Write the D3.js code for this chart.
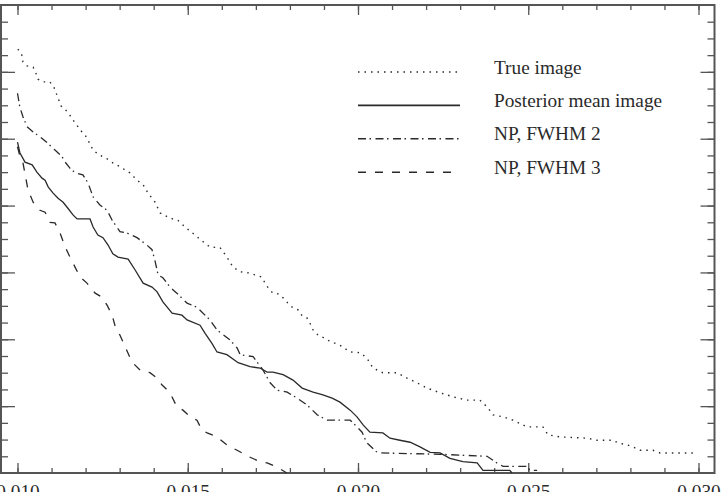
<!DOCTYPE html>
<html>
<head>
<meta charset="utf-8">
<script src="https://cdn.jsdelivr.net/npm/d3@7"></script>
<style>
  body { margin: 0; background: #fff; }
  svg { display: block; }
</style>
</head>
<body>
<script>
// curves: [threshold, value]
const trueImage = [
  [0.01001,6.34],[0.01012,6.27],[0.01016,6.15],[0.01028,6.09],[0.01046,6.07],[0.01054,5.98],
  [0.01060,5.89],[0.01075,5.85],[0.01095,5.85],[0.01107,5.77],[0.01119,5.61],[0.01128,5.49],
  [0.01140,5.44],[0.01154,5.35],[0.01163,5.28],[0.01175,5.20],[0.01184,5.13],[0.01198,5.06],
  [0.01207,4.98],[0.01222,4.83],[0.01239,4.76],[0.01260,4.71],[0.01280,4.64],[0.01301,4.58],
  [0.01330,4.49],[0.01351,4.38],[0.01369,4.31],[0.01383,4.19],[0.01404,4.05],[0.01419,3.89],
  [0.01448,3.81],[0.01471,3.78],[0.01492,3.68],[0.01521,3.56],[0.01545,3.46],[0.01565,3.38],
  [0.01595,3.37],[0.01615,3.23],[0.01633,3.08],[0.01654,3.01],[0.01683,2.99],[0.01717,2.93],
  [0.01727,2.84],[0.01736,2.77],[0.01750,2.69],[0.01765,2.68],[0.01780,2.62],[0.01794,2.54],
  [0.01809,2.47],[0.01824,2.44],[0.01836,2.35],[0.01850,2.32],[0.01859,2.24],[0.01868,2.14],
  [0.01883,2.06],[0.01897,2.03],[0.01909,1.99],[0.01947,1.91],[0.01977,1.81],[0.02006,1.80],
  [0.02026,1.72],[0.02044,1.57],[0.02073,1.50],[0.02115,1.50],[0.02144,1.42],[0.02173,1.35],
  [0.02203,1.27],[0.02241,1.20],[0.02279,1.14],[0.02320,1.09],[0.02358,1.09],[0.02379,0.99],
  [0.02397,0.87],[0.02426,0.84],[0.02455,0.79],[0.02496,0.69],[0.02543,0.69],[0.02558,0.57],
  [0.02593,0.54],[0.02673,0.52],[0.02702,0.49],[0.02749,0.49],[0.02764,0.45],[0.02790,0.42],
  [0.02808,0.39],[0.02828,0.34],[0.02866,0.34],[0.02887,0.30],[0.02990,0.30]
];
const posteriorMean = [
  [0.01000,4.95],[0.01007,4.79],[0.01022,4.65],[0.01043,4.61],[0.01057,4.50],[0.01072,4.41],
  [0.01081,4.38],[0.01090,4.28],[0.01104,4.19],[0.01119,4.11],[0.01134,4.05],[0.01148,3.96],
  [0.01163,3.86],[0.01175,3.80],[0.01213,3.80],[0.01222,3.68],[0.01236,3.56],[0.01251,3.52],
  [0.01266,3.41],[0.01280,3.28],[0.01295,3.23],[0.01325,3.20],[0.01345,3.04],[0.01369,2.84],
  [0.01395,2.78],[0.01410,2.71],[0.01427,2.56],[0.01454,2.39],[0.01483,2.36],[0.01498,2.29],
  [0.01536,2.21],[0.01551,2.09],[0.01571,1.94],[0.01586,1.81],[0.01615,1.77],[0.01648,1.65],
  [0.01683,1.59],[0.01712,1.57],[0.01733,1.51],[0.01750,1.51],[0.01780,1.47],[0.01809,1.39],
  [0.01836,1.27],[0.01868,1.21],[0.01897,1.17],[0.01924,1.12],[0.01947,1.06],[0.01977,0.94],
  [0.01997,0.84],[0.02015,0.72],[0.02035,0.61],[0.02073,0.60],[0.02094,0.52],[0.02123,0.49],
  [0.02153,0.46],[0.02182,0.39],[0.02212,0.31],[0.02241,0.30],[0.02270,0.22],[0.02308,0.17],
  [0.02350,0.15],[0.02367,0.04],[0.02446,0.04],[0.02452,0.00]
];
const npFwhm2 = [
  [0.01000,5.68],[0.01007,5.47],[0.01016,5.33],[0.01028,5.18],[0.01046,5.10],[0.01066,5.03],
  [0.01087,4.94],[0.01110,4.83],[0.01131,4.73],[0.01140,4.65],[0.01154,4.56],[0.01169,4.49],
  [0.01192,4.46],[0.01207,4.34],[0.01222,4.13],[0.01242,4.01],[0.01263,3.93],[0.01278,3.78],
  [0.01301,3.61],[0.01321,3.59],[0.01351,3.52],[0.01380,3.41],[0.01395,3.34],[0.01404,3.17],
  [0.01413,2.96],[0.01427,2.92],[0.01448,2.78],[0.01468,2.69],[0.01498,2.54],[0.01527,2.48],
  [0.01565,2.29],[0.01586,2.14],[0.01624,1.99],[0.01645,1.87],[0.01654,1.77],[0.01692,1.74],
  [0.01721,1.54],[0.01742,1.35],[0.01762,1.24],[0.01792,1.21],[0.01821,1.12],[0.01850,1.02],
  [0.01880,0.87],[0.01909,0.79],[0.01977,0.79],[0.01997,0.69],[0.02012,0.61],[0.02026,0.45],
  [0.02056,0.31],[0.02065,0.30],[0.02241,0.28],[0.02379,0.25],[0.02408,0.15],[0.02426,0.10],
  [0.02496,0.10],[0.02505,0.04],[0.02526,0.04]
];
const npFwhm3 = [
  [0.01000,4.88],[0.01007,4.74],[0.01016,4.64],[0.01031,4.23],[0.01046,4.05],[0.01066,3.93],
  [0.01081,3.90],[0.01095,3.75],[0.01110,3.74],[0.01125,3.59],[0.01140,3.38],[0.01154,3.23],
  [0.01169,3.08],[0.01184,2.93],[0.01204,2.84],[0.01228,2.69],[0.01248,2.63],[0.01263,2.51],
  [0.01278,2.36],[0.01286,2.21],[0.01301,2.06],[0.01316,1.89],[0.01336,1.66],[0.01360,1.54],
  [0.01389,1.50],[0.01410,1.42],[0.01424,1.32],[0.01448,1.20],[0.01468,0.99],[0.01486,0.94],
  [0.01507,0.84],[0.01527,0.79],[0.01542,0.64],[0.01557,0.60],[0.01586,0.54],[0.01615,0.42],
  [0.01645,0.34],[0.01677,0.25],[0.01703,0.19],[0.01733,0.15],[0.01762,0.09],[0.01791,0.00]
];

const seriesNames = ["True image", "Posterior mean image", "NP, FWHM 2", "NP, FWHM 3"];
const seriesData = [trueImage, posteriorMean, npFwhm2, npFwhm3];
const dashes = ["1.5,5", null, "8,3.5,1.5,4.5", "8,9"];

const xMajor = [0.010, 0.015, 0.020, 0.025, 0.030];
const xMinor = d3.range(10, 31).map(d => d / 1000);
const yMajor = d3.range(1, 7);
const yMinor = d3.range(1, 28).map(d => d / 4);

const w = 726;
const h = 492;
const frame = { left: 1, right: 714.5, top: 5, bottom: 473 };
const serif = "'Liberation Serif', 'Times New Roman', serif";
const ink = "#2a2a2a";

const x = d3.scaleLinear().domain([0.010, 0.030]).range([17.5, 698.5]);
const y = d3.scaleLinear().domain([0, 7]).range([frame.bottom, frame.top]);

const svg = d3.select("body").append("svg")
  .attr("width", w)
  .attr("height", h);

// ticks, all pointing inward
function tickLayer(axis, tx, ty) {
  const g = svg.append("g")
    .attr("transform", `translate(${tx},${ty})`)
    .call(axis);
  g.select(".domain").remove();
  g.selectAll(".tick line").attr("stroke", "#555").attr("stroke-width", 1.3);
  return g;
}

tickLayer(d3.axisBottom(x).tickValues(xMinor).tickSize(-5).tickFormat(""), 0, frame.bottom);
tickLayer(d3.axisTop(x).tickValues(xMinor).tickSize(-5).tickFormat(""), 0, frame.top);
tickLayer(d3.axisTop(x).tickValues(xMajor).tickSize(-10).tickFormat(""), 0, frame.top);
const bottomAxis = tickLayer(d3.axisBottom(x).tickValues(xMajor).tickSize(-10)
  .tickPadding(11.5).tickFormat(d3.format(".3f")), 0, frame.bottom);
bottomAxis.selectAll("text")
  .attr("font-family", serif)
  .attr("font-size", 19.3)
  .attr("fill", ink);

tickLayer(d3.axisLeft(y).tickValues(yMinor).tickSize(-7).tickFormat(""), frame.left, 0);
tickLayer(d3.axisLeft(y).tickValues(yMajor).tickSize(-14).tickFormat(""), frame.left, 0);
tickLayer(d3.axisRight(y).tickValues(yMinor).tickSize(-7).tickFormat(""), frame.right, 0);
tickLayer(d3.axisRight(y).tickValues(yMajor).tickSize(-14).tickFormat(""), frame.right, 0);

svg.append("rect")
  .attr("x", frame.left)
  .attr("y", frame.top)
  .attr("width", frame.right - frame.left)
  .attr("height", frame.bottom - frame.top)
  .attr("fill", "none")
  .attr("stroke", "#555")
  .attr("stroke-width", 2);

const line = d3.line()
  .x(d => x(d[0]))
  .y(d => y(d[1]));

svg.selectAll(".curve")
  .data(seriesData)
  .enter()
  .append("path")
  .attr("class", "curve")
  .attr("d", line)
  .attr("fill", "none")
  .attr("stroke", ink)
  .attr("stroke-width", (d, i) => i === 0 ? 1.4 : 1.3)
  .attr("stroke-dasharray", (d, i) => dashes[i]);

// legend
const legend = svg.append("g").attr("transform", "translate(358,72)");
const rows = legend.selectAll("g")
  .data(seriesNames)
  .enter()
  .append("g")
  .attr("transform", (d, i) => `translate(0,${i * 33.4})`);

rows.append("line")
  .attr("x1", 0)
  .attr("x2", 102)
  .attr("stroke", ink)
  .attr("stroke-width", (d, i) => i === 1 ? 1.8 : 1.4)
  .attr("stroke-dasharray", (d, i) => dashes[i]);

rows.append("text")
  .attr("x", 136)
  .attr("y", 1.5)
  .attr("font-family", serif)
  .attr("font-size", 19.3)
  .attr("fill", ink)
  .text(d => d);
</script>
</body>
</html>
